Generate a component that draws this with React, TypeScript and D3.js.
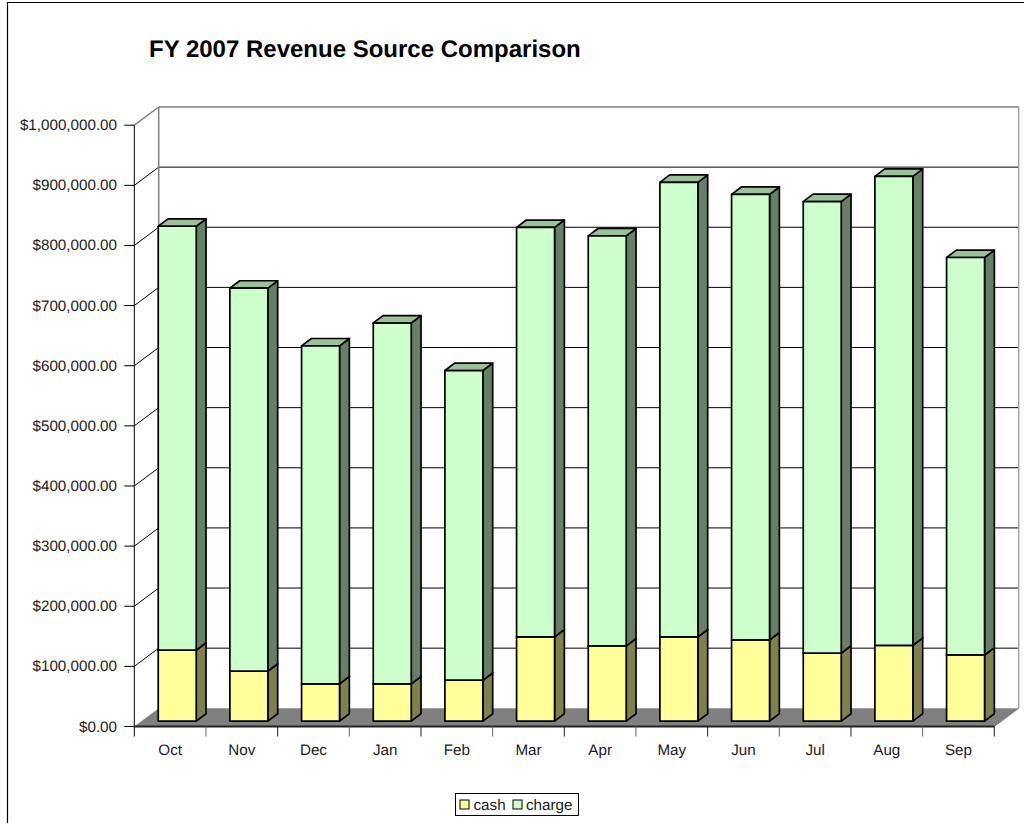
import React from "react";
import * as d3 from "d3";

const months = ["Oct","Nov","Dec","Jan","Feb","Mar","Apr","May","Jun","Jul","Aug","Sep"];
const cash = [118000,83000,62000,62000,68000,140000,125000,140000,135000,113000,126000,110000];
const charge = [705000,637000,562000,600000,515000,681000,682000,756000,741000,751000,780000,661000];
const yTicks = [0,100000,200000,300000,400000,500000,600000,700000,800000,900000,1000000];
const FONT = "'Liberation Sans', Arial, sans-serif";
const INK = "#1c1c1c";

const x = d3.scaleBand<string>().domain(months).range([134.3, 994.3]).paddingInner(0.47).paddingOuter(0.235);
const y = d3.scaleLinear().domain([0, 1000000]).range([726.5, 125.2]);
const fmt = d3.format("$,.2f");

const DX = 24.4, DY = -18.2;     // full chart depth
const BX = 7.1, BY = -5.4;       // bar front plane
const SX = 9.8, SY = -7.4;       // bar depth

const pts = (a: number[][]) => a.map(p => p.join(",")).join(" ");

function Box({ x0, w, y0, y1, front, side, top }: any) {
  return (
    <g stroke="#000" strokeWidth={1.7} strokeLinejoin="round">
      <polygon points={pts([[x0+w,y0],[x0+w+SX,y0+SY],[x0+w+SX,y1+SY],[x0+w,y1]])} fill={side} />
      <polygon points={pts([[x0,y1],[x0+SX,y1+SY],[x0+w+SX,y1+SY],[x0+w,y1]])} fill={top} />
      <rect x={x0} y={y1} width={w} height={y0-y1} fill={front} />
    </g>
  );
}

export default function App() {
  const xL = 134.3, xR = 994.3;
  const b0 = y(0), bt = y(1000000);
  return (
    <svg width={1024} height={823} style={{ position: "absolute", left: 0, top: 0, display: "block" }} fontFamily={FONT} textRendering="geometricPrecision">
      <rect width={1024} height={823} fill="#fff" />
      <path d="M7.5,823V2.5H1024" fill="none" stroke="#000" strokeWidth={1.2} />
      <text x={149} y={56.5} fontSize={24} fontWeight="bold" fill="#000">FY 2007 Revenue Source Comparison</text>

      {/* floor */}
      <polygon points={pts([[xL,b0],[xL+DX,b0+DY],[xR+DX,b0+DY],[xR,b0]])} fill="#808080" />
      {/* gridlines on walls */}
      {yTicks.slice(1).map((t) => {
        const gray = t === 1000000;
        return (
          <g key={t} fill="none" stroke={gray ? "#808080" : "#000"} strokeWidth={gray ? 1.5 : 1}>
            <line x1={xL} y1={y(t)} x2={xL+DX} y2={y(t)+DY} />
            <line x1={xL+DX} y1={y(t)+DY} x2={xR+DX} y2={y(t)+DY} />
          </g>
        );
      })}
      <line x1={xL+DX} y1={bt+DY} x2={xL+DX} y2={b0+DY} stroke="#808080" strokeWidth={1.5} />
      <line x1={xR+DX} y1={bt+DY} x2={xR+DX} y2={b0+DY} stroke="#a6a6a6" strokeWidth={1.5} />
      <line x1={xR} y1={b0} x2={xR+DX} y2={b0+DY} stroke="#808080" strokeWidth={1} />

      {/* bars */}
      {months.map((m, i) => {
        const x0 = x(m)! + BX, w = x.bandwidth();
        const c = y(cash[i]) + BY, t = y(cash[i] + charge[i]) + BY, base = y(0) + BY;
        return (
          <g key={m}>
            <Box x0={x0} w={w} y0={base} y1={c} front="#FFFF99" side="#80804D" top="#80804D" />
            <Box x0={x0} w={w} y0={c} y1={t} front="#CCFFCC" side="#668066" top="#99C299" />
          </g>
        );
      })}

      {/* axes */}
      <line x1={xL} y1={bt} x2={xL} y2={b0+10} stroke="#000" strokeWidth={1} />
      <line x1={xL} y1={b0} x2={xR} y2={b0} stroke="#222" strokeWidth={2} />
      {yTicks.map(t => (
        <g key={t}>
          <line x1={124.3} y1={y(t)} x2={xL} y2={y(t)} stroke="#000" />
          <text x={117} y={y(t)+5} textAnchor="end" fontSize={15.2} fill={INK}>{fmt(t)}</text>
        </g>
      ))}
      {months.map((m, i) => {
        const step = x.step();
        const tx = xL + step * (i + 1);
        return (
          <g key={m}>
            <line x1={tx} y1={b0} x2={tx} y2={b0+10} stroke={i % 2 === 0 ? "#666" : "#222"} />
            <text x={xL + step * (i + 0.5)} y={755} textAnchor="middle" fontSize={15.2} fill={INK}>{m}</text>
          </g>
        );
      })}

      {/* legend */}
      <rect x={455.5} y={793.5} width={123} height={22} fill="#fff" stroke="#000" strokeWidth={1} />
      <rect x={460} y={800} width={9} height={9} fill="#FFFF99" stroke="#000" />
      <text x={473.5} y={809.5} fontSize={15.2} fill={INK}>cash</text>
      <rect x={513} y={800} width={9} height={9} fill="#CCFFCC" stroke="#000" />
      <text x={526} y={809.5} fontSize={15.2} fill={INK}>charge</text>
    </svg>
  );
}
